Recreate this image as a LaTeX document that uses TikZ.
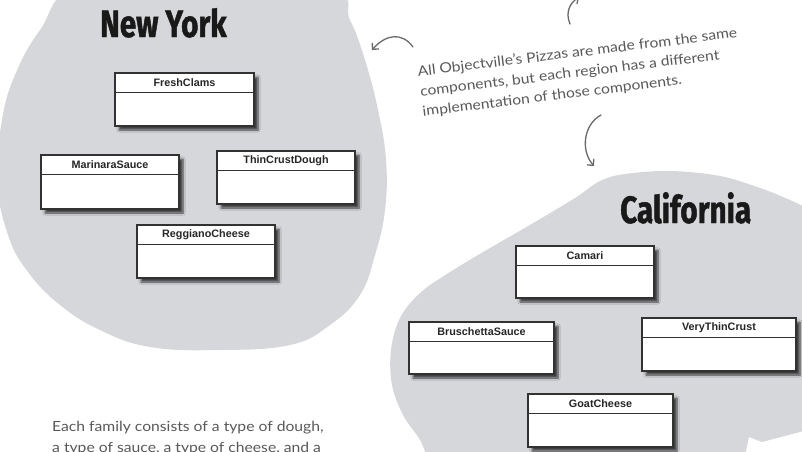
\documentclass[tikz,border=0pt]{standalone}
\usepackage{fontspec}
\setmainfont{Liberation Sans}
\newfontfamily\titlefont[FakeStretch=0.78,FakeBold=1.2]{Fira Sans}
\newfontfamily\handfont[FakeStretch=1.12]{Lato}
\usetikzlibrary{arrows.meta,shadows.blur}
\definecolor{blobgray}{RGB}{214,215,218}
\definecolor{handgray}{RGB}{88,88,88}
\definecolor{boxline}{RGB}{50,50,50}
\newcommand{\UmlBox}[7]{%
  \node[umlbox, minimum width=#4pt, minimum height=#5pt] (#1) at (#2,#3) {};
  \draw[divider] ([yshift=-#6pt]#1.north west) -- ([yshift=-#6pt]#1.north east);
  \node[umllabel] (#1t) at ([yshift=-#6pt/2]#1.north) {#7};
}
\begin{document}
\begin{tikzpicture}[x=1pt,y=-1pt,
  umlbox/.style={draw=boxline, line width=1.2pt, fill=white, inner sep=0pt,
    blur shadow={shadow xshift=4pt, shadow yshift=-4pt, shadow blur steps=6, shadow opacity=70}},
  divider/.style={draw=boxline, line width=1pt},
  umllabel/.style={font=\fontsize{10.8}{12}\selectfont\bfseries, text=black!85, inner sep=0pt},
  titletext/.style={font=\titlefont\fontsize{38}{40}\selectfont\bfseries, text=black!90, inner sep=0pt},
  handtext/.style={text=handgray, inner sep=0pt, align=left},
  handarrow/.style={draw=handgray!90, line width=1.3pt, line cap=round, -{Straight Barb[length=4.5pt,width=9pt,line width=1.3pt]}}]
\useasboundingbox (0,0) rectangle (802,451);
\clip (0,0) rectangle (802,451);
% New York region
\fill[blobgray] plot[smooth cycle, tension=0.7] coordinates {(80,-15) (200,-20) (330,-10) (350,20) (365,60) (378,110) (386,160) (385,210) (375,255) (360,295) (330,325) (290,345) (220,350) (150,347) (100,330) (60,305) (28,272) (8,235) (-3,180) (2,120) (15,75) (40,30)};
% California region
\fill[blobgray] plot[smooth, tension=0.6] coordinates {(815,212) (790,200) (760,188) (720,176) (670,171) (625,174) (600,181) (575,198) (535,222) (490,248) (450,272) (420,293) (400,318) (391,350) (392,385) (403,415) (420,440) (428,460)} -- (745,460) -- (746,451) -- (749,437) -- (762,442) -- (815,428) -- cycle;
% titles
\node[titletext, anchor=base west] (ny) at (100,37) {New York};
\node[titletext, anchor=base west] (ca) at (620,223) {California};
% New York classes
\UmlBox{fc}{184.5}{99.5}{139}{53}{20}{FreshClams}
\UmlBox{ms}{110}{182}{138}{54}{20}{MarinaraSauce}
\UmlBox{tcd}{286}{177.5}{138}{53}{20}{ThinCrustDough}
\UmlBox{rc}{206}{251.5}{138}{53}{20}{ReggianoCheese}
% California classes
\UmlBox{cam}{585}{272}{138}{52}{20}{Camari}
\UmlBox{bs}{481.5}{348}{145}{52}{20}{BruschettaSauce}
\UmlBox{vtc}{719}{344.5}{154}{53}{20}{VeryThinCrust}
\UmlBox{gc}{600.5}{420.5}{145}{53}{20}{GoatCheese}
% annotation
\node[handtext, font=\handfont\fontsize{14}{20}\selectfont, anchor=north west, rotate=7] (note) at (416.8,65.8)
  {All Objectville’s Pizzas are made from the same\\components, but each region has a different\\implementation of those components.};
\node[handtext, font=\handfont\fontsize{14}{21}\selectfont, anchor=north west] (family) at (52,420.7)
  {Each family consists of a type of dough,\\a type of sauce, a type of cheese, and a};
% arrows
\coordinate (a1s) at (413,47);
\coordinate (a1e) at (372,50);
\coordinate (a2s) at (570,24);
\coordinate (a2e) at (579,-3);
\coordinate (a3s) at (601,115);
\coordinate (a3e) at (594,166);
\draw[handarrow] (a1s) .. controls (402,32) and (386,34) .. (a1e);
\draw[handarrow] (a2s) .. controls (565,12) and (570,3) .. (a2e);
\draw[handarrow] (a3s) .. controls (584,124) and (580,150) .. (a3e);
\end{tikzpicture}
\end{document}
